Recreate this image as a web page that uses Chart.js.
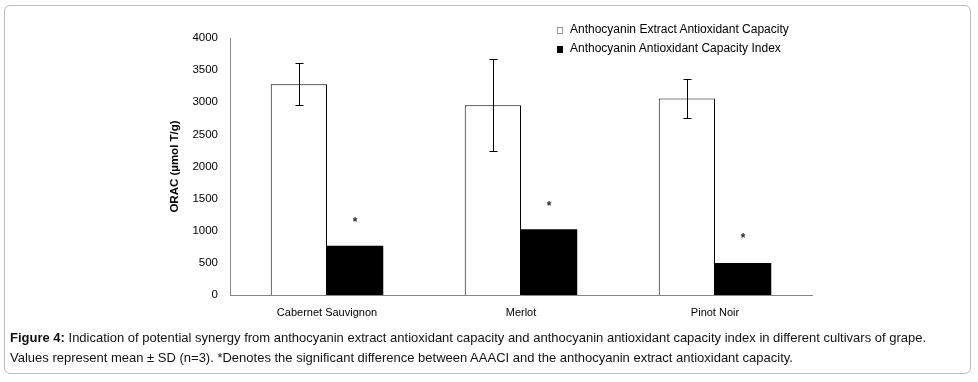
<!DOCTYPE html>
<html>
<head>
<meta charset="utf-8">
<script src="https://cdn.jsdelivr.net/npm/chart.js@4.4.0/dist/chart.umd.min.js"></script>
<style>
  html, body { margin: 0; padding: 0; background: #fff; }
  #wrap { position: relative; width: 978px; height: 382px; overflow: hidden; }
  #frame { position: absolute; left: 4px; top: 5px; width: 967px; height: 369px; border: 1px solid #bdbdbd; border-radius: 6px; box-sizing: border-box; }
  #c { position: absolute; left: 0; top: 0; }
  #legend { position: absolute; left: 557px; top: 20px; font-family: "Liberation Sans", Arial, sans-serif; font-size: 12px; color: #000; letter-spacing: 0px; }
  .li { height: 19px; line-height: 19px; white-space: nowrap; }
  .sw { display: inline-block; width: 6px; height: 7px; margin-right: 7px; vertical-align: -1px; box-sizing: border-box; }
  #caption { position: absolute; left: 10px; top: 328px; font-family: "Liberation Sans", Arial, sans-serif; font-size: 13px; line-height: 20px; color: #111; white-space: nowrap; letter-spacing: 0px; }
</style>
</head>
<body>
<div id="wrap">
  <div id="frame"></div>
  <canvas id="c" width="978" height="382"></canvas>
  <div id="legend"></div>
  <div id="caption"><b>Figure 4:</b> Indication of potential synergy from anthocyanin extract antioxidant capacity and anthocyanin antioxidant capacity index in different cultivars of grape.<br>Values represent mean ± SD (n=3). *Denotes the significant difference between AAACI and the anthocyanin extract antioxidant capacity.</div>
</div>
<script>
const categories = ["Cabernet Sauvignon", "Merlot", "Pinot Noir"];
const seriesNames = ["Anthocyanin Extract Antioxidant Capacity", "Anthocyanin Antioxidant Capacity Index"];
const extractValues = [3280, 2955, 3060];
const extractSD = [327, 718, 303];
const indexValues = [765, 1025, 500];
const asteriskValues = [1150, 1400, 905];
const yTitle = "ORAC (µmol T/g)";

// HTML legend built from series names
const legendColors = [{bg: "#fff", bd: "#9a9a9a"}, {bg: "#000", bd: "#000"}];
document.getElementById("legend").innerHTML = seriesNames.map((n, i) =>
  `<div class="li"><span class="sw" style="background:${legendColors[i].bg};border:1px solid ${legendColors[i].bd}"></span>${n}</div>`
).join("");

const errorBars = {
  id: "errorBars",
  afterDatasetsDraw(chart) {
    const ctx = chart.ctx;
    const y = chart.scales.y;
    const meta = chart.getDatasetMeta(0);
    ctx.save();
    ctx.strokeStyle = "#000";
    ctx.lineWidth = 1;
    meta.data.forEach((bar, i) => {
      const x = Math.round(bar.x) + 0.5;
      const top = Math.round(y.getPixelForValue(extractValues[i] + extractSD[i])) + 0.5;
      const bot = Math.round(y.getPixelForValue(extractValues[i] - extractSD[i])) + 0.5;
      ctx.beginPath();
      ctx.moveTo(x, top); ctx.lineTo(x, bot);
      ctx.moveTo(x - 4, top); ctx.lineTo(x + 4, top);
      ctx.moveTo(x - 4, bot); ctx.lineTo(x + 4, bot);
      ctx.stroke();
    });
    // asterisks
    const meta2 = chart.getDatasetMeta(1);
    ctx.fillStyle = "#2a2a2a";
    ctx.font = "bold 12px 'Liberation Sans', Arial, sans-serif";
    ctx.textAlign = "center";
    ctx.textBaseline = "middle";
    meta2.data.forEach((bar, i) => {
      ctx.fillText("*", bar.x, y.getPixelForValue(asteriskValues[i]) + 2);
    });
    ctx.restore();
  }
};

new Chart(document.getElementById("c"), {
  type: "bar",
  data: {
    labels: categories,
    datasets: [
      { label: seriesNames[0], data: extractValues, backgroundColor: "#fff", borderColor: "#000", borderWidth: 1, borderSkipped: "bottom", categoryPercentage: 0.58, barPercentage: 1 },
      { label: seriesNames[1], data: indexValues, backgroundColor: "#000", borderColor: "#000", borderWidth: 0, categoryPercentage: 0.58, barPercentage: 1 }
    ]
  },
  options: {
    responsive: false,
    devicePixelRatio: 1,
    animation: false,
    layout: { padding: { left: 160, top: 38, right: 166, bottom: 0 } },
    plugins: { legend: { display: false }, tooltip: { enabled: false } },
    scales: {
      x: {
        grid: { display: false, drawTicks: false },
        border: { display: true, color: "#888", width: 1 },
        ticks: { color: "#000", font: { family: "'Liberation Sans', Arial, sans-serif", size: 11 }, padding: 11, maxRotation: 0 },
        afterFit(s) { s.height = 87; }
      },
      y: {
        min: 0, max: 4000,
        grid: { display: false, drawTicks: false },
        border: { display: true, color: "#888", width: 1 },
        ticks: { stepSize: 500, color: "#000", font: { family: "'Liberation Sans', Arial, sans-serif", size: 11.5 }, padding: 12, callback: (v) => String(v) },
        title: { display: true, text: yTitle, color: "#000", font: { family: "'Liberation Sans', Arial, sans-serif", size: 11.5, weight: "bold" }, padding: { top: 8, bottom: 0 } },
        afterFit(s) { s.width = 70; }
      }
    }
  },
  plugins: [errorBars]
});
</script>
</body>
</html>
